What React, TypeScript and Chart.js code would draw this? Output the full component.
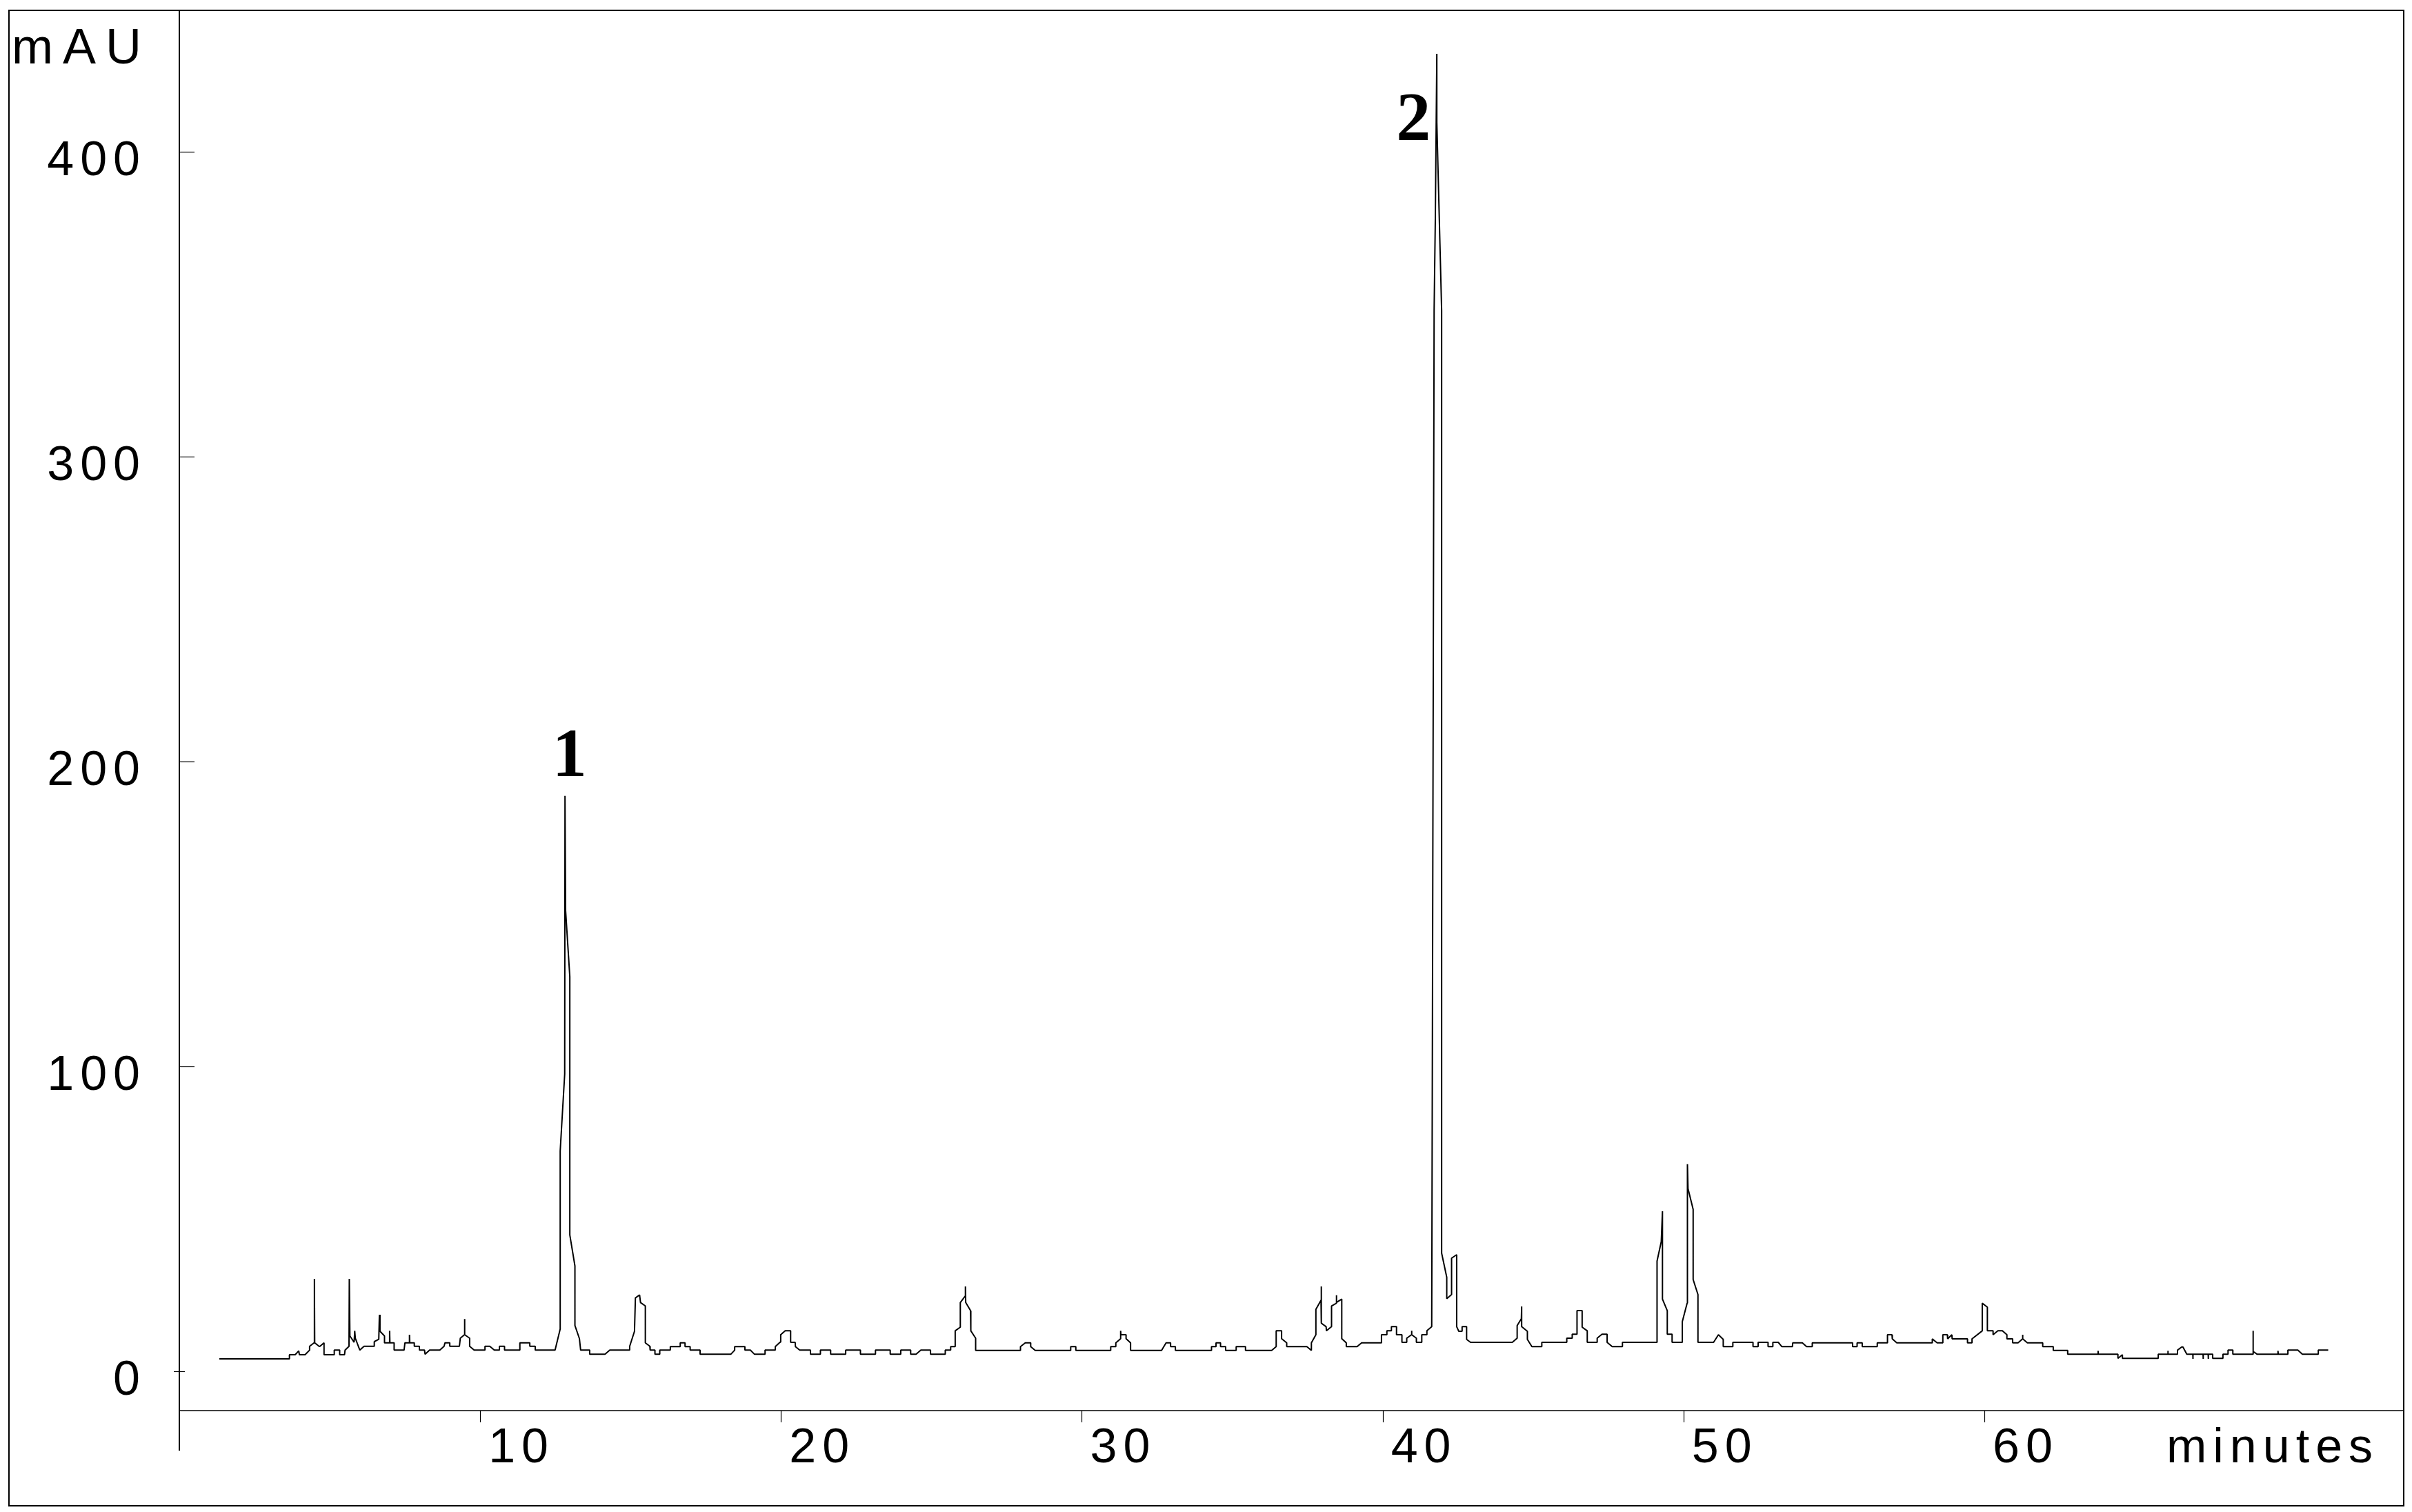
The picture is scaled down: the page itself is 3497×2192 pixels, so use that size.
import React, { useEffect, useRef } from 'react';
import { Chart, registerables } from 'chart.js';

Chart.register(...registerables);

// Retention time (minutes) and absorbance (mAU) of the chromatogram trace
const retentionTimes = [
  1.33, 3.66, 3.66, 3.85, 3.97, 3.99, 4.18, 4.33, 4.33, 4.48, 4.49, 4.5, 4.66, 4.81, 4.81, 5.15, 5.15, 5.33, 5.33, 5.49,
  5.51, 5.64, 5.65, 5.67, 5.81, 5.83, 5.85, 6.0, 6.14, 6.48, 6.48, 6.63, 6.65, 6.67, 6.82, 6.82, 6.98, 6.99, 7.0, 7.14,
  7.14, 7.47, 7.5, 7.65, 7.65, 7.66, 7.81, 7.81, 7.98, 7.98, 8.15, 8.17, 8.32, 8.66, 8.8, 8.83, 8.99, 8.99, 9.31, 9.34,
  9.48, 9.48, 9.49, 9.65, 9.65, 9.8, 10.16, 10.16, 10.32, 10.47, 10.64, 10.64, 10.81, 10.81, 11.32, 11.32, 11.65, 11.65, 11.83, 11.83,
  12.49, 12.66, 12.66, 12.81, 12.82, 12.84, 12.98, 12.98, 13.15, 13.15, 13.3, 13.34, 13.64, 13.64, 14.15, 14.31, 14.97, 14.97, 15.13, 15.16,
  15.3, 15.33, 15.49, 15.49, 15.64, 15.65, 15.81, 15.81, 15.97, 15.97, 16.32, 16.32, 16.65, 16.65, 16.81, 16.81, 16.98, 16.98, 17.31, 17.31,
  18.33, 18.46, 18.46, 18.8, 18.8, 18.98, 19.12, 19.47, 19.47, 19.81, 19.81, 19.97, 19.99, 20.14, 20.32, 20.32, 20.47, 20.48, 20.62, 20.98,
  20.98, 21.31, 21.31, 21.65, 21.65, 22.15, 22.15, 22.64, 22.64, 23.14, 23.14, 23.63, 23.63, 23.98, 23.98, 24.31, 24.31, 24.49, 24.65, 24.97,
  24.97, 25.46, 25.46, 25.64, 25.64, 25.79, 25.79, 25.96, 25.96, 26.12, 26.13, 26.14, 26.3, 26.31, 26.47, 26.47, 27.96, 27.96, 28.12, 28.3,
  28.3, 28.45, 29.63, 29.63, 29.8, 29.8, 30.96, 30.96, 31.13, 31.13, 31.29, 31.29, 31.3, 31.47, 31.47, 31.62, 31.62, 32.65, 32.8, 32.95,
  32.95, 33.11, 33.11, 34.31, 34.31, 34.46, 34.46, 34.61, 34.61, 34.78, 34.78, 35.13, 35.13, 35.44, 35.44, 36.31, 36.46, 36.46, 36.64, 36.64,
  36.81, 36.81, 37.48, 37.63, 37.63, 37.78, 37.78, 37.95, 37.96, 37.96, 38.12, 38.13, 38.3, 38.3, 38.46, 38.46, 38.47, 38.64, 38.64, 38.79,
  38.79, 39.15, 39.3, 39.96, 39.96, 40.14, 40.14, 40.29, 40.29, 40.46, 40.46, 40.64, 40.64, 40.8, 40.8, 40.96, 40.96, 40.97, 41.12, 41.12,
  41.3, 41.3, 41.47, 41.47, 41.63, 41.71, 41.75, 41.8, 41.8, 41.96, 41.96, 42.13, 42.13, 42.29, 42.29, 42.46, 42.46, 42.53, 42.64, 42.64,
  42.79, 42.79, 42.92, 44.31, 44.47, 44.47, 44.61, 44.62, 44.62, 44.81, 44.81, 44.96, 45.29, 45.29, 46.12, 46.12, 46.3, 46.3, 46.46, 46.46,
  46.63, 46.63, 46.8, 46.8, 47.13, 47.13, 47.29, 47.46, 47.46, 47.63, 47.97, 47.97, 49.12, 49.12, 49.26, 49.3, 49.3, 49.46, 49.46, 49.62,
  49.62, 49.96, 49.96, 50.12, 50.13, 50.15, 50.32, 50.32, 50.48, 50.48, 51.0, 51.16, 51.32, 51.32, 51.64, 51.64, 52.31, 52.31, 52.48, 52.48,
  52.81, 52.81, 52.97, 52.97, 53.15, 53.27, 53.62, 53.63, 53.95, 54.09, 54.28, 54.28, 55.62, 55.62, 55.77, 55.77, 55.94, 55.94, 56.44, 56.44,
  56.78, 56.78, 56.93, 56.94, 57.09, 58.27, 58.27, 58.43, 58.62, 58.62, 58.77, 58.78, 58.92, 58.93, 59.44, 59.44, 59.59, 59.59, 59.93, 59.93,
  60.1, 60.1, 60.29, 60.29, 60.45, 60.6, 60.75, 60.75, 60.94, 60.94, 61.12, 61.27, 61.27, 61.28, 61.43, 61.94, 61.94, 62.29, 62.29, 62.77,
  62.77, 63.78, 63.78, 63.79, 64.44, 64.44, 64.59, 64.59, 65.78, 65.78, 66.1, 66.1, 66.11, 66.42, 66.42, 66.56, 66.6, 66.73, 66.93, 66.93,
  66.94, 67.27, 67.27, 67.28, 67.44, 67.44, 67.45, 67.59, 67.59, 67.93, 67.93, 68.1, 68.1, 68.26, 68.26, 68.93, 68.93, 68.94, 69.07, 69.76,
  69.76, 69.77, 70.09, 70.09, 70.42, 70.57, 71.1, 71.1, 71.43,
];

const absorbance = [
  4.07, 4.07, 5.43, 5.43, 6.71, 5.43, 5.43, 6.94, 8.21, 9.34, 30.31, 9.34, 8.07, 9.34, 5.43, 5.43, 6.94, 6.94, 5.43, 5.43,
  6.94, 8.21, 30.31, 11.6, 9.5, 13.27, 10.86, 6.94, 8.21, 8.21, 9.73, 10.47, 18.55, 13.12, 11.6, 9.34, 9.34, 13.27, 9.34, 9.34,
  6.94, 6.94, 9.34, 9.34, 11.99, 9.34, 9.34, 8.21, 8.21, 6.94, 6.94, 5.58, 6.94, 6.94, 8.21, 9.34, 9.34, 8.21, 8.21, 10.86,
  11.99, 17.12, 11.99, 10.86, 8.21, 6.94, 6.94, 8.21, 8.21, 6.94, 6.94, 8.21, 8.21, 6.94, 6.94, 9.34, 9.34, 8.21, 8.21, 6.94,
  6.94, 13.87, 72.2, 97.5, 188.7, 151.1, 129.4, 44.7, 34.56, 15.02, 10.68, 6.94, 6.94, 5.58, 5.58, 6.94, 6.94, 8.21, 13.12, 24.05,
  25.04, 22.55, 21.42, 9.34, 8.21, 6.94, 6.94, 5.58, 5.58, 6.94, 6.94, 8.07, 8.07, 9.34, 9.34, 8.07, 8.07, 6.94, 6.94, 5.58,
  5.58, 6.94, 8.07, 8.07, 6.94, 6.94, 5.58, 5.58, 6.94, 6.94, 8.07, 9.57, 11.99, 13.27, 13.27, 9.5, 9.5, 8.07, 6.94, 6.94,
  5.58, 5.58, 6.94, 6.94, 5.58, 5.58, 6.94, 6.94, 5.58, 5.58, 6.94, 6.94, 5.58, 5.58, 6.94, 6.94, 5.58, 5.58, 6.94, 6.94,
  5.58, 5.58, 6.94, 6.94, 8.07, 8.07, 13.27, 14.48, 22.55, 24.65, 27.82, 22.55, 19.9, 13.27, 10.86, 6.85, 6.85, 8.07, 9.34, 9.34,
  8.07, 6.85, 6.85, 8.07, 8.07, 6.85, 6.85, 8.07, 8.07, 9.34, 10.7, 13.27, 11.99, 11.99, 10.7, 9.34, 6.85, 6.85, 9.34, 9.34,
  8.07, 8.07, 6.85, 6.85, 8.07, 8.07, 9.34, 9.34, 8.07, 8.07, 6.85, 6.85, 8.07, 8.07, 6.85, 6.85, 8.07, 13.27, 13.27, 10.7,
  9.34, 8.07, 8.07, 6.85, 9.34, 11.99, 20.29, 23.3, 27.82, 15.77, 14.63, 13.27, 14.63, 21.42, 22.32, 24.95, 22.6, 23.68, 10.7, 9.34,
  8.07, 8.07, 9.34, 9.34, 11.99, 11.99, 13.27, 13.27, 14.63, 14.63, 11.99, 11.99, 9.5, 9.5, 10.86, 11.99, 13.27, 11.99, 10.86, 9.5,
  9.5, 11.99, 11.99, 13.27, 14.63, 347.9, 378.0, 432.0, 409.6, 347.9, 38.75, 30.83, 23.82, 25.18, 37.1, 38.23, 14.63, 13.12, 13.12, 14.63,
  14.63, 10.47, 9.5, 9.5, 10.86, 15.0, 17.26, 21.26, 14.63, 13.12, 10.47, 8.07, 8.07, 9.5, 9.5, 10.86, 10.86, 12.14, 12.14, 19.9,
  19.9, 14.48, 13.27, 9.5, 9.5, 10.86, 12.14, 12.14, 9.5, 8.07, 8.07, 9.5, 9.5, 36.12, 42.52, 52.48, 23.68, 19.9, 12.14, 12.14,
  9.5, 9.5, 16.29, 22.32, 67.9, 59.87, 53.09, 30.08, 25.18, 9.5, 9.5, 12.0, 10.47, 8.07, 8.07, 9.5, 9.5, 8.07, 8.07, 9.5,
  9.5, 8.07, 8.07, 9.5, 9.5, 8.07, 8.07, 9.34, 9.34, 8.07, 8.07, 9.34, 9.34, 8.07, 8.07, 9.34, 9.34, 8.07, 8.07, 9.34,
  9.34, 11.99, 11.99, 10.63, 9.34, 9.34, 10.63, 9.34, 9.34, 11.99, 11.99, 10.63, 11.99, 10.63, 10.63, 9.34, 9.34, 10.63, 13.27, 22.32,
  21.04, 13.27, 13.27, 11.99, 13.27, 13.27, 11.99, 10.63, 10.63, 9.34, 9.34, 10.63, 11.99, 10.63, 9.34, 9.34, 8.07, 8.07, 6.85, 6.85,
  5.58, 5.58, 6.71, 5.58, 5.58, 4.23, 5.43, 4.23, 4.23, 5.58, 5.58, 6.71, 5.58, 5.58, 6.94, 7.98, 7.98, 5.58, 5.58, 4.07,
  5.58, 5.58, 4.07, 5.58, 5.58, 4.07, 5.58, 5.58, 4.23, 4.23, 5.58, 5.58, 6.94, 6.94, 5.58, 5.58, 13.27, 6.5, 5.58, 5.58,
  6.71, 5.58, 5.58, 6.94, 6.94, 5.58, 5.58, 6.94, 6.94,
];

const xTickValues = [10, 20, 30, 40, 50, 60];
const yTickValues = [0, 100, 200, 300, 400];
const xAxisTitle = 'minutes';
const yAxisTitle = 'mAU';
const peakLabels = ['1', '2'];
const peakLabelTimes = [12.97, 41.02];
const peakLabelHeights = [195.2, 404.0];

const X_MIN = 0;
const X_MAX = 73.94;
const Y_MIN = -12.89;
const Y_MAX = 446.27;

const SANS = '"Liberation Sans", Arial, sans-serif';
const SERIF = '"Liberation Serif", "Times New Roman", serif';

const framePlugin = {
  id: 'chromFrame',
  afterDraw(chart: any) {
    const { ctx, chartArea } = chart;
    const xs = chart.scales.x;
    const ys = chart.scales.y;
    const H = chart.height;
    const L = chartArea.left;
    const R = chartArea.right;
    const B = chartArea.bottom;
    ctx.save();
    ctx.strokeStyle = '#000';
    ctx.fillStyle = '#000';

    // outer frame
    ctx.lineWidth = 2;
    ctx.strokeRect(13, 15, R - 13, H - 9 - 15);

    // y axis line (extends below x axis)
    ctx.beginPath();
    ctx.moveTo(L, 15);
    ctx.lineTo(L, B + 58);
    ctx.stroke();

    // x axis line
    ctx.lineWidth = 1.6;
    ctx.beginPath();
    ctx.moveTo(L, B);
    ctx.lineTo(R, B);
    ctx.stroke();

    // y ticks
    ctx.lineWidth = 1.2;
    yTickValues.forEach((v) => {
      const py = Math.round(ys.getPixelForValue(v)) + 0.5;
      ctx.beginPath();
      if (v === 0) {
        ctx.moveTo(L - 8, py);
        ctx.lineTo(L + 8, py);
      } else {
        ctx.moveTo(L, py);
        ctx.lineTo(L + 22, py);
      }
      ctx.stroke();
    });

    // x ticks
    xTickValues.forEach((t) => {
      const px = Math.round(xs.getPixelForValue(t)) + 0.5;
      ctx.beginPath();
      ctx.moveTo(px, B);
      ctx.lineTo(px, B + 17);
      ctx.stroke();
    });

    // tick labels
    ctx.font = `70px ${SANS}`;
    ctx.letterSpacing = '9px';
    ctx.textBaseline = 'alphabetic';
    ctx.textAlign = 'right';
    yTickValues.forEach((v) => {
      const py = ys.getPixelForValue(v);
      ctx.fillText(String(v), L - 48, py + 34);
    });
    ctx.textAlign = 'left';
    xTickValues.forEach((t) => {
      const px = xs.getPixelForValue(t);
      ctx.fillText(String(t), px + 12, B + 75);
    });

    // axis titles
    ctx.fillText(xAxisTitle, R - 344, B + 75);
    ctx.font = `72px ${SANS}`;
    ctx.letterSpacing = '14px';
    ctx.fillText(yAxisTitle, 17, 92);

    // peak labels
    ctx.letterSpacing = '0px';
    ctx.font = `bold 100px ${SERIF}`;
    ctx.textAlign = 'center';
    peakLabels.forEach((lab, i) => {
      ctx.fillText(lab, xs.getPixelForValue(peakLabelTimes[i]), ys.getPixelForValue(peakLabelHeights[i]));
    });
    ctx.restore();
  },
};

export default function App() {
  const canvasRef = useRef<HTMLCanvasElement | null>(null);

  useEffect(() => {
    const canvas = canvasRef.current;
    if (!canvas) return;
    const points = retentionTimes.map((t, i) => ({ x: t, y: absorbance[i] }));
    const chart = new Chart(canvas, {
      type: 'line',
      data: {
        datasets: [
          {
            data: points,
            borderColor: '#000',
            borderWidth: 2,
            pointRadius: 0,
            tension: 0,
            fill: false,
            borderJoinStyle: 'bevel',
          },
        ],
      },
      options: {
        responsive: false,
        maintainAspectRatio: false,
        devicePixelRatio: 1,
        animation: false,
        layout: { padding: { left: 260, right: 12, top: 15, bottom: 147 } },
        plugins: { legend: { display: false }, tooltip: { enabled: false } },
        scales: {
          x: { type: 'linear', min: X_MIN, max: X_MAX, display: false },
          y: { type: 'linear', min: Y_MIN, max: Y_MAX, display: false },
        },
      },
      plugins: [framePlugin],
    } as any);
    return () => chart.destroy();
  }, []);

  return (
    <div style={{ position: 'fixed', left: 0, top: 0, width: 3497, height: 2192, background: '#fff' }}>
      <canvas ref={canvasRef} width={3497} height={2192} style={{ display: 'block', width: 3497, height: 2192 }} />
    </div>
  );
}
